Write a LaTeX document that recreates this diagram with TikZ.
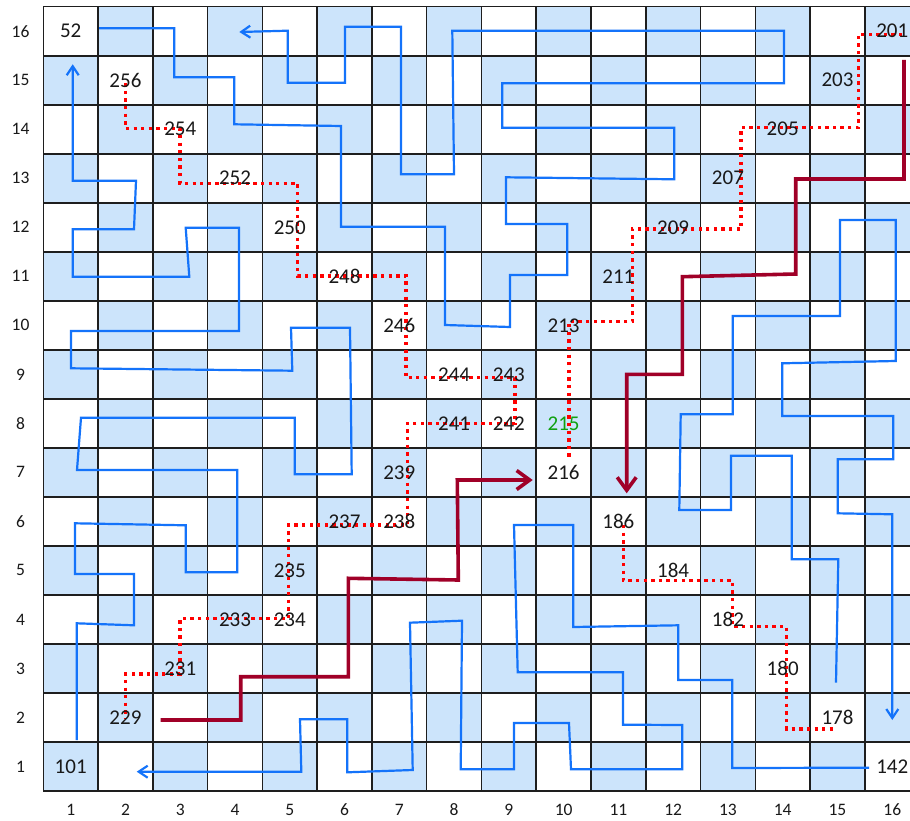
\documentclass[tikz,border=0pt]{standalone}
\usepackage{fontspec}
\setmainfont{Carlito}
\usetikzlibrary{arrows.meta}
\definecolor{cellblue}{RGB}{204,228,251}
\definecolor{pathblue}{RGB}{20,115,250}
\definecolor{darkred}{RGB}{160,0,40}
\definecolor{dotred}{RGB}{255,0,0}
\definecolor{numgreen}{RGB}{16,160,16}
\definecolor{gridline}{RGB}{30,30,30}
\definecolor{textcol}{RGB}{25,25,25}
\begin{document}
\begin{tikzpicture}[x=1pt,y=-1pt,
  gridstyle/.style={draw=gridline,line width=1.6pt},
  bluepath/.style={draw=pathblue,line width=2.2pt,line join=miter},
  bluearrow/.style={bluepath,-{Straight Barb[length=9pt,width=12pt,line width=2.2pt]}},
  dotpath/.style={draw=dotred,line width=3.3pt,dash pattern=on 3.3pt off 4.3pt},
  redpath/.style={draw=darkred,line width=3.6pt,line join=miter},
  redarrow/.style={redpath,-{Straight Barb[length=13pt,width=19pt,line width=3.6pt]}},
  celllab/.style={inner sep=0pt,text=textcol,font=\fontsize{21}{25}\selectfont},
  axislab/.style={inner sep=0pt,text=textcol,font=\fontsize{17.5}{21}\selectfont}]
\useasboundingbox (0,0) rectangle (910,821);
\clip (0,0) rectangle (910,821);
\fill[white] (0,0) rectangle (910,821);
% checkerboard cells
\foreach \i in {1,...,16} {
  \foreach \j in {1,...,16} {
    \pgfmathtruncatemacro\parity{mod(\i+\j,2)}
    \ifnum\parity=0
      \fill[cellblue] ({43.3+(\i-1)*54.77},{791-(\j-1)*49.02}) rectangle ++(54.77,-49.02);
    \fi
  }
}
% grid
\foreach \k in {0,...,16} {
  \draw[gridstyle] ({43.3+\k*54.77},6.7) -- ({43.3+\k*54.77},791);
  \draw[gridstyle] (43.3,{6.7+\k*49.02}) -- (919.6,{6.7+\k*49.02});
}
% axis labels
\foreach \k in {1,...,16} {
  \node[axislab] (cx\k) at ({43.3+(\k-0.5)*54.77},810) {\k};
  \node[axislab] (ry\k) at (20.5,{791-(\k-0.5)*49.02}) {\k};
}
% blue paths
\draw[bluearrow] (76.7,740) -- (76.7,623.3) -- (134,625.3) -- (134,574) -- (75,574) -- (75,523.3) -- (185.7,525.3) -- (185.7,572.3) -- (237.3,572.3) -- (237.3,470) -- (77,470) -- (81,417.7) -- (294.7,417.7) -- (294.7,474.3) -- (351.7,474.3) -- (350,327.7) -- (291,327.7) -- (292.3,370.7) -- (71,368.3) -- (71,331) -- (239,331) -- (239,227.7) -- (185.7,227.7) -- (189.3,276.7) -- (72.7,276.7) -- (72.7,229.3) -- (134,229.3) -- (136,180.7) -- (72.7,180.7) -- (72.7,64.3);
\draw[bluearrow] (99,28.3) -- (174.3,28.3) -- (174.3,77.3) -- (234.3,77.3) -- (234.3,124.3) -- (341,126) -- (341,226.7) -- (445,226.7) -- (445,325) -- (510,327) -- (510,275) -- (567.3,275) -- (567.3,224) -- (506,224) -- (506,177.3) -- (674.3,179.3) -- (674.3,127.7) -- (502.3,127.7) -- (502.3,83.3) -- (784,83.3) -- (784,30.7) -- (452.3,30.7) -- (454,174.3) -- (401,174.3) -- (401,26.7) -- (345,26.7) -- (345,82.7) -- (287.7,82.7) -- (287.7,30.7) -- (239.3,32);
\draw[bluearrow] (869,767.7) -- (732.3,768) -- (732.3,680) -- (678.3,680) -- (678.3,625.3) -- (573.3,627) -- (573.3,525) -- (514,525) -- (517.7,672.3) -- (623,672.3) -- (623,724.7) -- (682.3,725) -- (682.3,769.3) -- (571,769.3) -- (569,723) -- (514,723) -- (514,769.3) -- (460.7,769.3) -- (462,620.7) -- (410,622.7) -- (412.7,770) -- (347.3,772.3) -- (347.3,719.3) -- (300,719.3) -- (301.3,771.7) -- (136.7,771.7);
\draw[bluearrow] (836,682.7) -- (838.3,559.3) -- (791.7,559.3) -- (791.7,455.7) -- (731,455.7) -- (731,510) -- (679.3,510) -- (680.7,414.3) -- (732.7,414.3) -- (732.7,316) -- (840,316) -- (840,220) -- (895.7,220) -- (895.7,361) -- (782.3,363.3) -- (782.3,416) -- (893.3,416) -- (893.3,459.3) -- (837.7,459.3) -- (837.7,513.3) -- (892.3,514.3) -- (892.3,720);
% red dotted paths
\draw[dotpath] (125.3,83.3) -- (125.3,128.3) -- (180,128.3) -- (180,183.3) -- (297.7,183.3) -- (297.7,276) -- (406,276) -- (406,377.7) -- (515,377.7) -- (515,423.3) -- (407.3,423.3) -- (407.3,525) -- (288.7,525) -- (288.7,618.7) -- (180,618.7) -- (180,674) -- (125.7,674) -- (125.7,718.3);
\draw[dotpath] (902.3,34.3) -- (858.3,34.3) -- (858.3,127.7) -- (741,127.7) -- (741,229) -- (632.3,229) -- (632.3,321.7) -- (569,321.7) -- (569,460);
\draw[dotpath] (623.3,525) -- (623.3,580.7) -- (732.7,580.7) -- (732.7,626.7) -- (786.7,626.7) -- (786.7,729) -- (836.7,729);
% dark red paths
\draw[redarrow] (160.7,720) -- (240.7,720) -- (240.7,676.7) -- (348.3,676.7) -- (348.3,578.3) -- (458.3,580) -- (457.3,480) -- (532.7,480);
\draw[redarrow] (904,60) -- (904,179) -- (795.7,179) -- (795.7,274) -- (682.3,276.7) -- (682.3,374.3) -- (626.7,374.3) -- (626.7,493.3);
% cell labels
\foreach \t/\c/\r in {52/1/16,256/2/15,254/3/14,252/4/13,250/5/12,248/6/11,246/7/10,244/8/9,243/9/9,241/8/8,242/9/8,239/7/7,238/7/6,237/6/6,235/5/5,234/5/4,233/4/4,231/3/3,229/2/2,101/1/1,142/16/1,178/15/2,180/14/3,182/13/4,184/12/5,186/11/6,201/16/16,203/15/15,205/14/14,207/13/13,209/12/12,211/11/11,213/10/10,216/10/7} {
  \node[celllab] (n\t) at ({43.3+(\c-0.5)*54.77},{791-(\r-0.5)*49.02}) {\t};
}
\node[celllab,text=numgreen] (n215) at ({43.3+9.5*54.77},{791-7.5*49.02}) {215};
\end{tikzpicture}
\end{document}
